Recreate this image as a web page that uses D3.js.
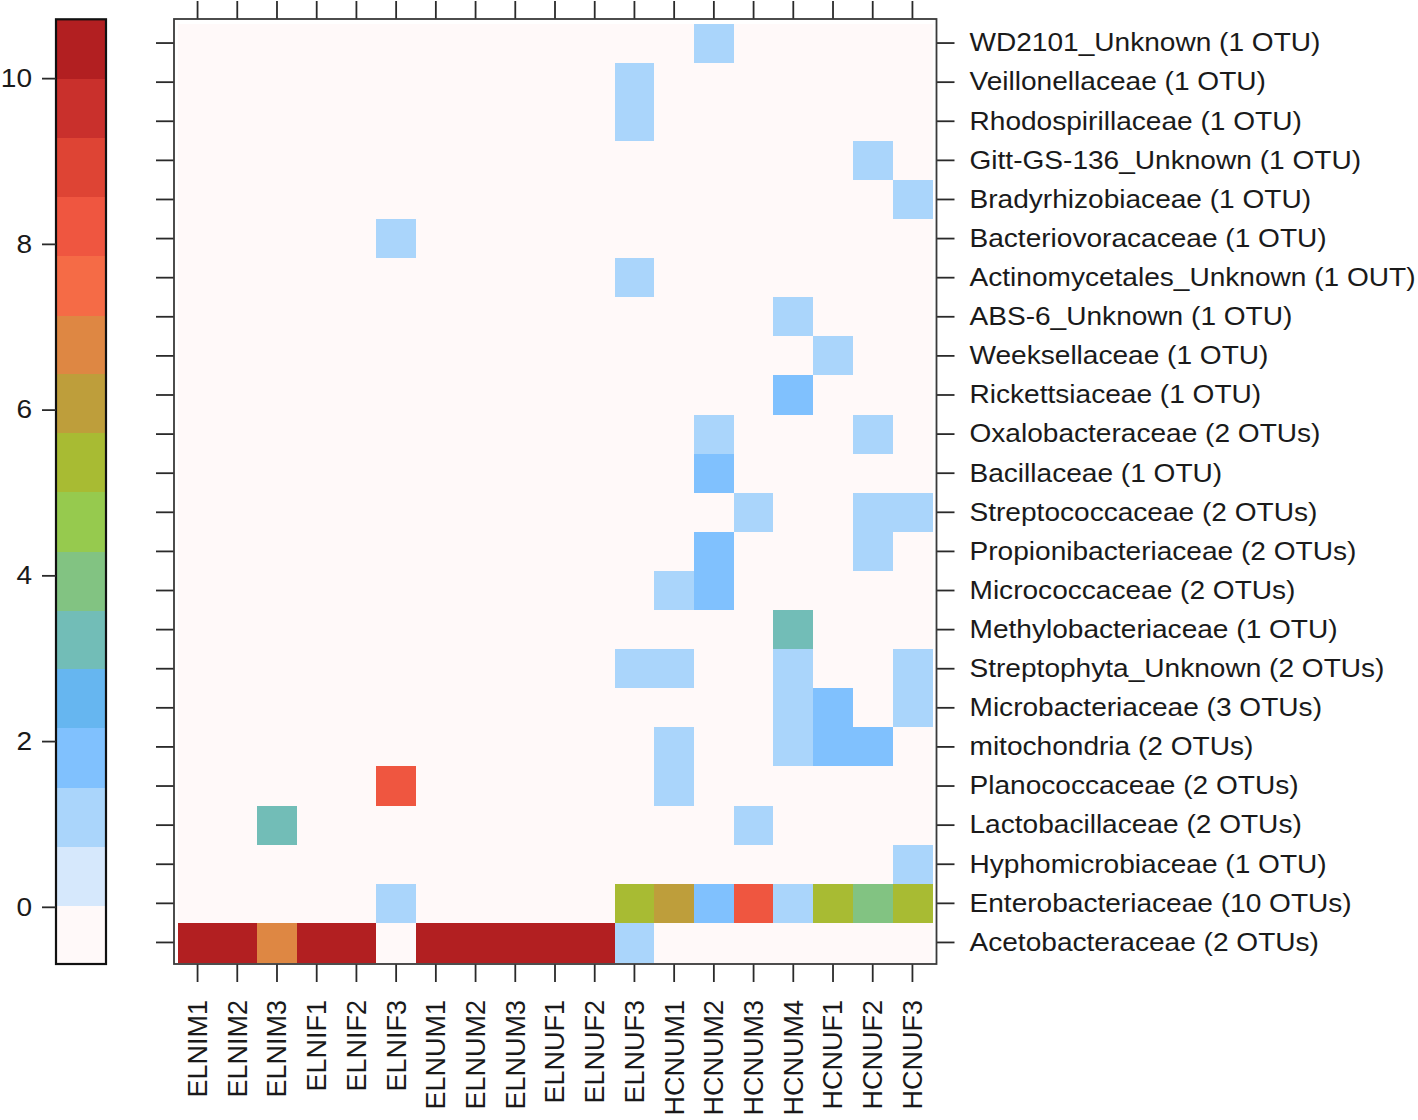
<!DOCTYPE html>
<html>
<head>
<meta charset="utf-8">
<script src="https://cdn.jsdelivr.net/npm/d3@7"></script>
<style>
  body { margin: 0; background: #fff; }
  svg text { font-family: "Liberation Sans", Arial, sans-serif; fill: #1a1a1a; }
</style>
</head>
<body>
<div id="chart"></div>
<script>
// Samples along the bottom
var samples = ["ELNIM1", "ELNIM2", "ELNIM3", "ELNIF1", "ELNIF2", "ELNIF3",
    "ELNUM1", "ELNUM2", "ELNUM3", "ELNUF1", "ELNUF2", "ELNUF3",
    "HCNUM1", "HCNUM2", "HCNUM3", "HCNUM4", "HCNUF1", "HCNUF2", "HCNUF3"];

// Families, top to bottom
var families = ["WD2101_Unknown (1 OTU)", "Veillonellaceae (1 OTU)", "Rhodospirillaceae (1 OTU)",
    "Gitt-GS-136_Unknown (1 OTU)", "Bradyrhizobiaceae (1 OTU)", "Bacteriovoracaceae (1 OTU)",
    "Actinomycetales_Unknown (1 OUT)", "ABS-6_Unknown (1 OTU)", "Weeksellaceae (1 OTU)",
    "Rickettsiaceae (1 OTU)", "Oxalobacteraceae (2 OTUs)", "Bacillaceae (1 OTU)",
    "Streptococcaceae (2 OTUs)", "Propionibacteriaceae (2 OTUs)", "Micrococcaceae (2 OTUs)",
    "Methylobacteriaceae (1 OTU)", "Streptophyta_Unknown (2 OTUs)", "Microbacteriaceae (3 OTUs)",
    "mitochondria (2 OTUs)", "Planococcaceae (2 OTUs)", "Lactobacillaceae (2 OTUs)",
    "Hyphomicrobiaceae (1 OTU)", "Enterobacteriaceae (10 OTUs)", "Acetobacteraceae (2 OTUs)"];

// one row per family, one value per sample (same order as above)
var abundance = [
    [0,0,0,0,0,0,0,0,0,0,0,0,0,1.1,0,0,0,0,0],
    [0,0,0,0,0,0,0,0,0,0,0,1.1,0,0,0,0,0,0,0],
    [0,0,0,0,0,0,0,0,0,0,0,1.1,0,0,0,0,0,0,0],
    [0,0,0,0,0,0,0,0,0,0,0,0,0,0,0,0,0,1.1,0],
    [0,0,0,0,0,0,0,0,0,0,0,0,0,0,0,0,0,0,1.1],
    [0,0,0,0,0,1.1,0,0,0,0,0,0,0,0,0,0,0,0,0],
    [0,0,0,0,0,0,0,0,0,0,0,1.1,0,0,0,0,0,0,0],
    [0,0,0,0,0,0,0,0,0,0,0,0,0,0,0,1.1,0,0,0],
    [0,0,0,0,0,0,0,0,0,0,0,0,0,0,0,0,1.1,0,0],
    [0,0,0,0,0,0,0,0,0,0,0,0,0,0,0,1.8,0,0,0],
    [0,0,0,0,0,0,0,0,0,0,0,0,0,1.1,0,0,0,1.1,0],
    [0,0,0,0,0,0,0,0,0,0,0,0,0,1.8,0,0,0,0,0],
    [0,0,0,0,0,0,0,0,0,0,0,0,0,0,1.1,0,0,1.1,1.1],
    [0,0,0,0,0,0,0,0,0,0,0,0,0,1.8,0,0,0,1.1,0],
    [0,0,0,0,0,0,0,0,0,0,0,0,1.1,1.8,0,0,0,0,0],
    [0,0,0,0,0,0,0,0,0,0,0,0,0,0,0,3.2,0,0,0],
    [0,0,0,0,0,0,0,0,0,0,0,1.1,1.1,0,0,1.1,0,0,1.1],
    [0,0,0,0,0,0,0,0,0,0,0,0,0,0,0,1.1,1.8,0,1.1],
    [0,0,0,0,0,0,0,0,0,0,0,0,1.1,0,0,1.1,1.8,1.8,0],
    [0,0,0,0,0,8.2,0,0,0,0,0,0,1.1,0,0,0,0,0,0],
    [0,0,3.2,0,0,0,0,0,0,0,0,0,0,0,1.1,0,0,0,0],
    [0,0,0,0,0,0,0,0,0,0,0,0,0,0,0,0,0,0,1.1],
    [0,0,0,0,0,1.1,0,0,0,0,0,5.4,6.1,1.8,8.2,1.1,5.4,3.9,5.4],
    [10.4,10.4,6.8,10.4,10.4,0,10.4,10.4,10.4,10.4,10.4,1.1,0,0,0,0,0,0,0]
];

// colour key
var keyBreaks = [-0.69, 0.02, 0.73, 1.44, 2.16, 2.87, 3.58, 4.29, 5.01,
    5.72, 6.43, 7.14, 7.86, 8.57, 9.28, 9.99, 10.71];
var keyColors = ["#fff9f9", "#d6e8fc", "#aad5fb", "#80c1fe", "#66b6f0", "#72bdb7",
    "#82c382", "#96ca4e", "#a8bb33", "#be9e3b", "#de8743", "#f56b46",
    "#ef5640", "#de4434", "#c9302c", "#b21f21"];
var keyTicks = [0, 2, 4, 6, 8, 10];

var W = 1418, H = 1120;
var svg = d3.select('#chart').append('svg')
    .attr('width', W)
    .attr('height', H);

svg.append('rect').attr('width', W).attr('height', H).attr('fill', '#fff');

// panel frame vs. cell area (lattice leaves a small pad)
var frame = {left: 174, right: 936.5, top: 19, bottom: 964};
var cells = {left: 177.7, right: 932.3, top: 23.5, bottom: 962};
var tickLen = 18;
var fontSize = 26;
var stretch = 1.08; // text in the picture is a bit wide

var xScale = d3.scaleBand()
    .domain(samples)
    .range([cells.left, cells.right]);

var yScale = d3.scaleBand()
    .domain(families)
    .range([cells.top, cells.bottom]);

var colour = d3.scaleThreshold()
    .domain(keyBreaks.slice(1, -1))
    .range(keyColors);

// Build flat cell list
var cellData = [];
families.forEach(function(f, i) {
    samples.forEach(function(s, j) {
        cellData.push({family: f, sample: s, value: abundance[i][j]});
    });
});

var grid = svg.append('g').attr('shape-rendering', 'crispEdges');

grid.append('rect')
    .attr('x', frame.left).attr('y', frame.top)
    .attr('width', frame.right - frame.left)
    .attr('height', frame.bottom - frame.top)
    .attr('fill', '#fff');

grid.selectAll('rect.cell')
    .data(cellData)
    .enter()
    .append('rect')
    .classed('cell', true)
    .attr('x', function(d) { return xScale(d.sample); })
    .attr('y', function(d) { return yScale(d.family); })
    .attr('width', xScale.bandwidth() + 0.5)
    .attr('height', yScale.bandwidth() + 0.5)
    .attr('fill', function(d) { return colour(d.value); });

// Axes
function styleAxis(g) {
    g.select('.domain').remove();
    g.selectAll('.tick line').attr('stroke', '#2a2a2a').attr('stroke-width', 1.8);
    g.selectAll('.tick text')
        .style('font-size', fontSize + 'px')
        .style('font-family', '"Liberation Sans", Arial, sans-serif')
        .attr('fill', '#1a1a1a');
}

svg.append('g')
    .attr('transform', 'translate(0,' + frame.top + ')')
    .call(d3.axisTop(xScale).tickSize(tickLen).tickFormat(''))
    .call(styleAxis);

svg.append('g')
    .attr('transform', 'translate(' + frame.left + ',0)')
    .call(d3.axisLeft(yScale).tickSize(tickLen).tickFormat(''))
    .call(styleAxis);

svg.append('g')
    .attr('transform', 'translate(' + frame.right + ',0)')
    .call(d3.axisRight(yScale).tickSize(tickLen))
    .call(styleAxis)
    .selectAll('.tick text')
    .attr('x', null)
    .attr('transform', 'translate(33,0) scale(' + stretch + ',1)');

var xAxisG = svg.append('g')
    .attr('transform', 'translate(0,' + frame.bottom + ')')
    .call(d3.axisBottom(xScale).tickSize(tickLen))
    .call(styleAxis);

xAxisG.selectAll('.tick text')
    .style('font-size', '27px')
    .attr('transform', 'rotate(-90)')
    .attr('text-anchor', 'end')
    .attr('x', -36)
    .attr('y', 0)
    .attr('dy', '0.35em');

// panel border
svg.append('rect')
    .attr('x', frame.left).attr('y', frame.top)
    .attr('width', frame.right - frame.left)
    .attr('height', frame.bottom - frame.top)
    .attr('fill', 'none')
    .attr('stroke', '#3a3a3a')
    .attr('stroke-width', 1.8);

// Colour key on the left
var key = {left: 56, right: 106, top: 19.3, bottom: 964};
var keyScale = d3.scaleLinear()
    .domain([keyBreaks[0], keyBreaks[keyBreaks.length - 1]])
    .range([key.bottom, key.top]);

var keyG = svg.append('g').attr('shape-rendering', 'crispEdges');
keyG.selectAll('rect.band')
    .data(keyColors)
    .enter()
    .append('rect')
    .classed('band', true)
    .attr('x', key.left)
    .attr('width', key.right - key.left)
    .attr('y', function(d, i) { return keyScale(keyBreaks[i + 1]); })
    .attr('height', function(d, i) {
        return keyScale(keyBreaks[i]) - keyScale(keyBreaks[i + 1]) + 0.5;
    })
    .attr('fill', function(d) { return d; });

svg.append('rect')
    .attr('x', key.left).attr('y', key.top)
    .attr('width', key.right - key.left)
    .attr('height', key.bottom - key.top)
    .attr('fill', 'none')
    .attr('stroke', '#111')
    .attr('stroke-width', 2.2);

svg.append('g')
    .attr('transform', 'translate(' + key.left + ',0)')
    .call(d3.axisLeft(keyScale).tickValues(keyTicks).tickSize(14))
    .call(styleAxis)
    .selectAll('.tick text')
    .attr('x', null)
    .attr('transform', 'translate(-24,0) scale(' + stretch + ',1)');
</script>
</body>
</html>
